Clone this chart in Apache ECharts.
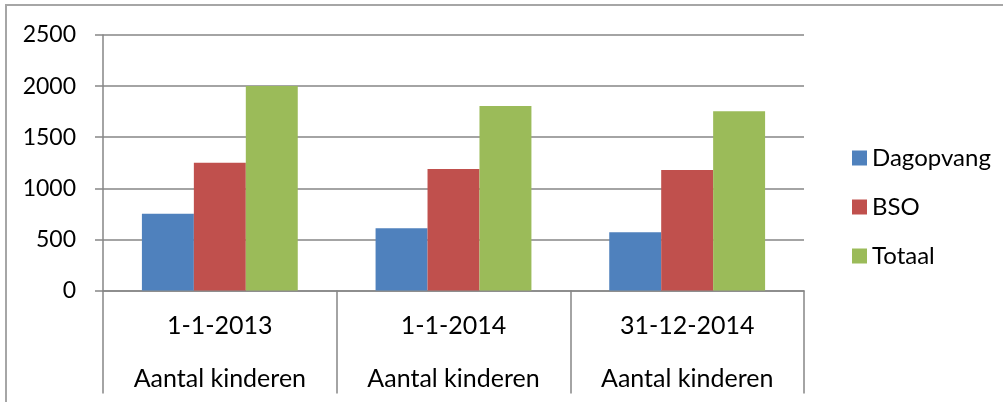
<!DOCTYPE html>
<html>
<head>
<meta charset="utf-8">
<script src="https://cdn.jsdelivr.net/npm/echarts@6/dist/echarts.min.js"></script>
<style>
html,body{margin:0;padding:0;background:#fff;}
#c{width:1003px;height:402px;}
</style>
</head>
<body>
<div id="c"></div>
<script>
var dates = ['1-1-2013', '1-1-2014', '31-12-2014'];
var groupLabel = 'Aantal kinderen';
var seriesNames = ['Dagopvang', 'BSO', 'Totaal'];
var dagopvang = [750, 610, 570];
var bso = [1250, 1190, 1180];
var totaal = [2000, 1805, 1755];
var yTicks = [0, 500, 1000, 1500, 2000, 2500];
var colors = ['#4F81BD', '#C0504D', '#9BBB59'];

var font = 'Lato, "Open Sans", sans-serif';
var chart = echarts.init(document.getElementById('c'));
var values = [dagopvang, bso, totaal];
chart.setOption({
  animation: false,
  textStyle: {fontFamily: font},
  graphic: [{
    type: 'rect', silent: true,
    shape: {x: 6, y: 5, width: 1200, height: 600},
    style: {fill: 'none', stroke: '#a6a6a6', lineWidth: 2}
  }],
  grid: {left: 103, right: 199, top: 35, bottom: 111.5, containLabel: false, outerBoundsMode: 'none'},
  legend: {
    orient: 'vertical', left: 847, top: 141,
    itemWidth: 15, itemHeight: 15, itemGap: 25,
    icon: 'rect',
    textStyle: {fontSize: 24, color: '#000', fontFamily: font, padding: [0, 0, 0, 0]},
    data: seriesNames
  },
  xAxis: {
    type: 'category',
    data: dates,
    axisLine: {lineStyle: {color: '#868686', width: 1.5}},
    axisTick: {show: true, length: 103, interval: 0, lineStyle: {color: '#868686', width: 1.5}},
    axisLabel: {
      interval: 0, margin: 9, fontSize: 25, color: '#000', lineHeight: 53, fontFamily: font,
      formatter: function (v) { return v + '\n' + groupLabel; }
    },
    splitLine: {show: false}
  },
  yAxis: {
    type: 'value', min: yTicks[0], max: yTicks[yTicks.length - 1], interval: 500,
    axisLine: {show: true, lineStyle: {color: '#868686', width: 1.5}},
    axisTick: {show: true, length: 8, lineStyle: {color: '#868686', width: 1.5}},
    axisLabel: {fontSize: 23, color: '#000', margin: 27, fontFamily: font,
      formatter: function (v) { return String(v); }},
    splitLine: {lineStyle: {color: '#868686', width: 1.5}}
  },
  series: seriesNames.map(function (n, i) {
    return {
      name: n, type: 'bar', data: values[i],
      barGap: '0%', barCategoryGap: '33.3%',
      itemStyle: {color: colors[i]}
    };
  })
});
</script>
</body>
</html>
